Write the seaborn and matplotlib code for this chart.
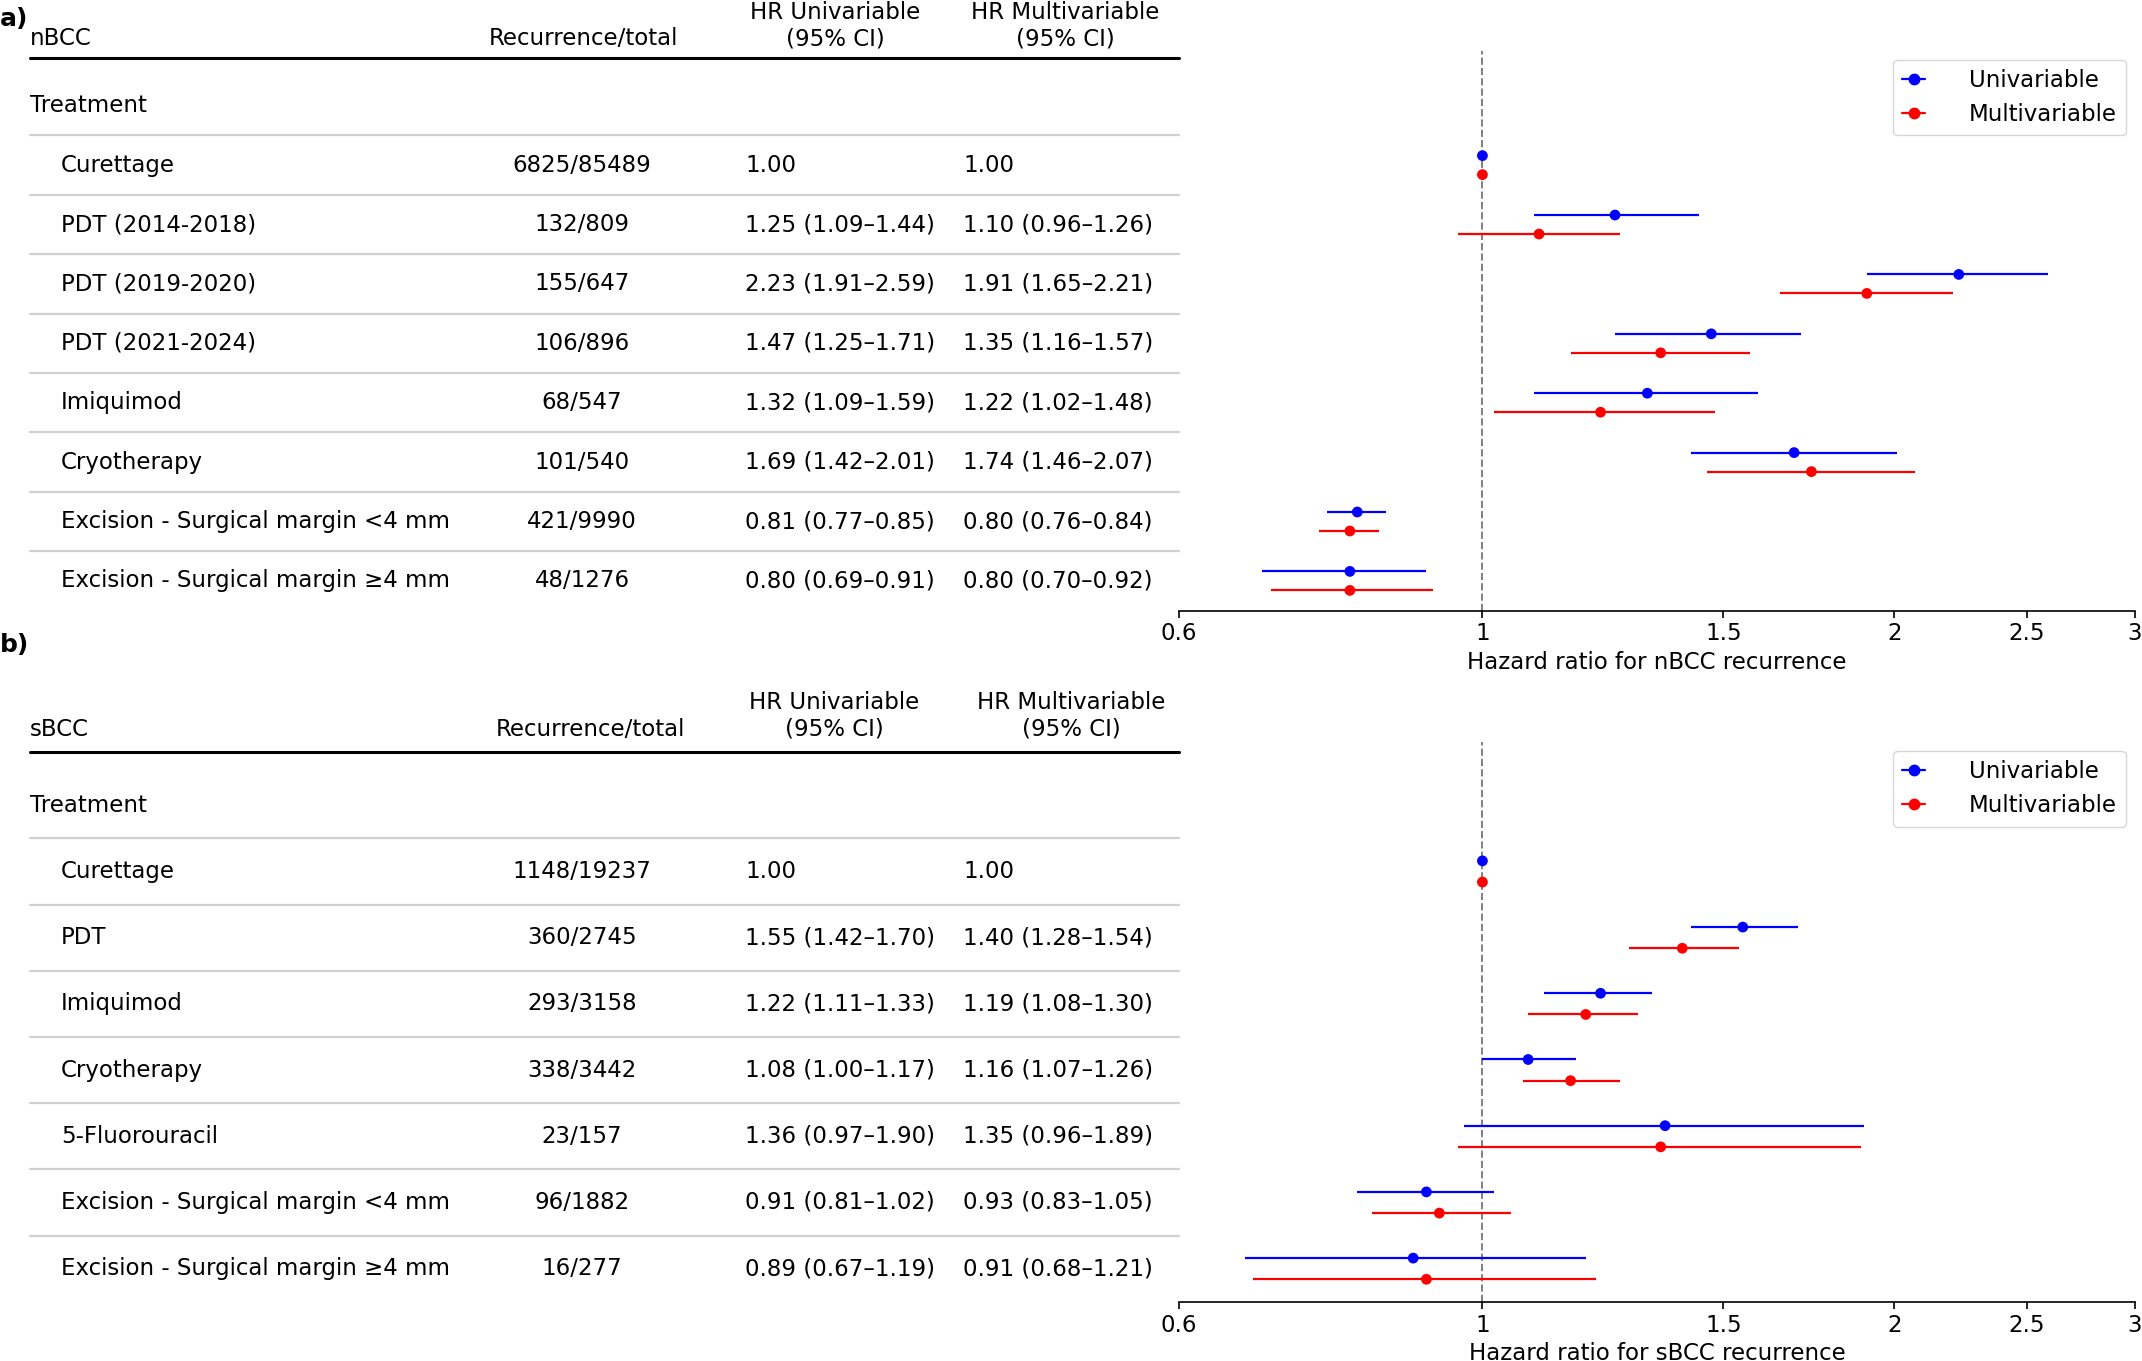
import numpy as np
import pandas as pd
import matplotlib
matplotlib.use("Agg")
import matplotlib.pyplot as plt
from matplotlib.transforms import blended_transform_factory
from matplotlib.lines import Line2D
import seaborn as sns

sns.set_style("white")
plt.rcParams['font.family'] = ['DejaVu Sans']
plt.rcParams['text.color'] = 'black'
plt.rcParams['axes.labelcolor'] = 'black'
plt.rcParams['xtick.color'] = 'black'

# ---------------- data ----------------
a_group = "nBCC"
a_treatments = ["Curettage", "PDT (2014-2018)", "PDT (2019-2020)", "PDT (2021-2024)",
                "Imiquimod", "Cryotherapy", "Excision - Surgical margin <4 mm",
                "Excision - Surgical margin \u22654 mm"]
a_counts = ["6825/85489", "132/809", "155/647", "106/896", "68/547", "101/540",
            "421/9990", "48/1276"]
a_uni_hr = [1.00, 1.25, 2.23, 1.47, 1.32, 1.69, 0.81, 0.80]
a_uni_lo = [np.nan, 1.09, 1.91, 1.25, 1.09, 1.42, 0.77, 0.69]
a_uni_hi = [np.nan, 1.44, 2.59, 1.71, 1.59, 2.01, 0.85, 0.91]
a_mul_hr = [1.00, 1.10, 1.91, 1.35, 1.22, 1.74, 0.80, 0.80]
a_mul_lo = [np.nan, 0.96, 1.65, 1.16, 1.02, 1.46, 0.76, 0.70]
a_mul_hi = [np.nan, 1.26, 2.21, 1.57, 1.48, 2.07, 0.84, 0.92]

b_group = "sBCC"
b_treatments = ["Curettage", "PDT", "Imiquimod", "Cryotherapy", "5-Fluorouracil",
                "Excision - Surgical margin <4 mm", "Excision - Surgical margin \u22654 mm"]
b_counts = ["1148/19237", "360/2745", "293/3158", "338/3442", "23/157", "96/1882", "16/277"]
b_uni_hr = [1.00, 1.55, 1.22, 1.08, 1.36, 0.91, 0.89]
b_uni_lo = [np.nan, 1.42, 1.11, 1.00, 0.97, 0.81, 0.67]
b_uni_hi = [np.nan, 1.70, 1.33, 1.17, 1.90, 1.02, 1.19]
b_mul_hr = [1.00, 1.40, 1.19, 1.16, 1.35, 0.93, 0.91]
b_mul_lo = [np.nan, 1.28, 1.08, 1.07, 0.96, 0.83, 0.68]
b_mul_hi = [np.nan, 1.54, 1.30, 1.26, 1.89, 1.05, 1.21]

models = ["Univariable", "Multivariable"]
palette = {"Univariable": "blue", "Multivariable": "red"}
xticks = [0.6, 1, 1.5, 2, 2.5, 3]
xticklabels = ["0.6", "1", "1.5", "2", "2.5", "3"]

W, H = 2142, 1361
FS = 16.5
fig = plt.figure(figsize=(W / 100, H / 100), dpi=100)


def fmt(hr, lo, hi):
    if np.isnan(lo):
        return f"{hr:.2f}"
    return f"{hr:.2f} ({lo:.2f}\u2013{hi:.2f})"


def panel(letter, letter_y, ax_top, ax_bot, group, treatments, counts,
          uhr, ulo, uhi, mhr, mlo, mhi, ytop, rec_x, uni_hx, mul_hx, xlabel):
    n = len(treatments)
    left_px, right_px = 1179, 2135
    ax = fig.add_axes([left_px / W, 1 - ax_bot / H, (right_px - left_px) / W,
                       (ax_bot - ax_top) / H])
    rows = np.arange(n)
    off = 0.16
    df = pd.concat([
        pd.DataFrame({"treatment": treatments, "model": "Univariable", "hr": uhr,
                      "lo": ulo, "hi": uhi, "y": rows - off}),
        pd.DataFrame({"treatment": treatments, "model": "Multivariable", "hr": mhr,
                      "lo": mlo, "hi": mhi, "y": rows + off}),
    ], ignore_index=True)
    ci = df.dropna(subset=["lo"])
    ax.hlines(ci["y"], ci["lo"], ci["hi"], colors=ci["model"].map(palette), lw=1.6, zorder=2)
    sns.scatterplot(data=df, x="hr", y="y", hue="model", palette=palette, s=60,
                    linewidth=0, legend=False, zorder=3, ax=ax)
    ax.axvline(1, color="grey", ls="--", lw=1.4, zorder=1)
    ax.set_xscale("log")
    ax.set_xlim(0.6, 3)
    ax.set_ylim(n - 0.5, ytop)
    ax.set_xticks(xticks)
    ax.set_xticklabels(xticklabels)
    ax.minorticks_off()
    ax.set_yticks([])
    ax.set_ylabel("")
    ax.set_xlabel(xlabel, fontsize=FS)
    for s in ["top", "left", "right"]:
        ax.spines[s].set_visible(False)
    ax.spines["bottom"].set_color("black")
    ax.spines["bottom"].set_linewidth(1.2)
    ax.tick_params(axis="x", bottom=True, length=5, width=1.2, labelsize=FS)

    tr = blended_transform_factory(fig.transFigure, ax.transData)
    xl = 30 / W
    xr = left_px / W
    # headers
    ax.text(xl, -2.14, group, transform=tr, ha="left", va="center", fontsize=FS)
    ax.text(rec_x / W, -2.14, "Recurrence/total", transform=tr, ha="center", va="center", fontsize=FS)
    ax.text(uni_hx / W, -2.35, "HR Univariable\n(95% CI)", transform=tr, ha="center",
            va="center", multialignment="center", fontsize=FS)
    ax.text(mul_hx / W, -2.35, "HR Multivariable\n(95% CI)", transform=tr, ha="center",
            va="center", multialignment="center", fontsize=FS)
    ax.plot([xl, xr], [-1.8, -1.8], transform=tr, color="black", lw=2.2, clip_on=False)
    ax.text(xl, -1, "Treatment", transform=tr, ha="left", va="center", fontsize=FS)
    for i in range(n):
        ax.plot([xl, xr], [i - 0.5, i - 0.5], transform=tr, color="#d0d0d0", lw=1.6,
                clip_on=False)
        ax.text(61 / W, i, treatments[i], transform=tr, ha="left", va="center", fontsize=FS)
        ax.text(582 / W, i, counts[i], transform=tr, ha="center", va="center", fontsize=FS)
        ax.text(745 / W, i, fmt(uhr[i], ulo[i], uhi[i]), transform=tr, ha="left",
                va="center", fontsize=FS)
        ax.text(963 / W, i, fmt(mhr[i], mlo[i], mhi[i]), transform=tr, ha="left",
                va="center", fontsize=FS)
    handles = [Line2D([0], [0], color=palette[m], marker="o", lw=1.6, markersize=7.5,
                      label=m) for m in models]
    ax.legend(handles=handles, loc="upper right", fontsize=FS, handlelength=1.0,
              handletextpad=1.9, borderaxespad=0.4)
    fig.text(0 / W, 1 - letter_y / H, letter, ha="left", va="center", fontsize=18,
             fontweight="bold")
    return ax


panel("a)", 19, 50.5, 610.6, a_group, a_treatments, a_counts,
      a_uni_hr, a_uni_lo, a_uni_hi, a_mul_hr, a_mul_lo, a_mul_hi,
      -1.93, 583, 835, 1065, "Hazard ratio for nBCC recurrence")
panel("b)", 645, 741.7, 1301.8, b_group, b_treatments, b_counts,
      b_uni_hr, b_uni_lo, b_uni_hi, b_mul_hr, b_mul_lo, b_mul_hi,
      -1.96, 590, 834, 1071, "Hazard ratio for sBCC recurrence")

fig.savefig("out.png", dpi=100)
